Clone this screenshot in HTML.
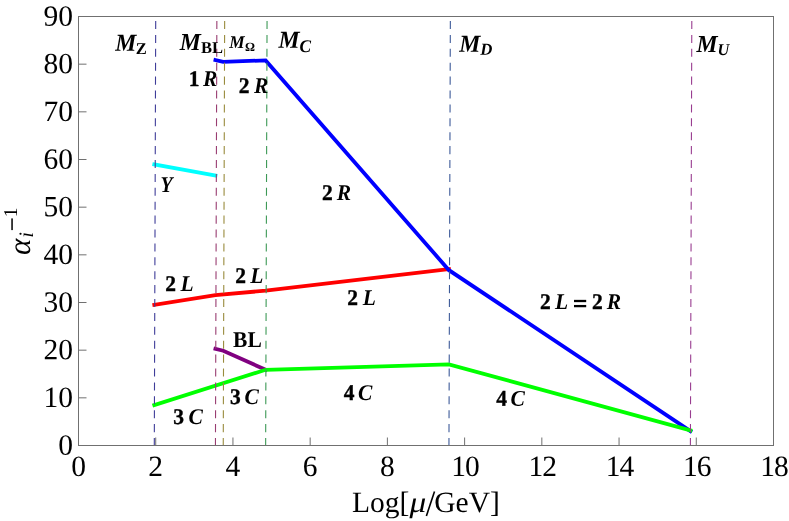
<!DOCTYPE html>
<html><head><meta charset="utf-8"><title>Gauge coupling running</title>
<style>
html,body{margin:0;padding:0;background:#fff;}
body{width:789px;height:521px;overflow:hidden;font-family:"Liberation Serif",serif;}
svg{display:block;will-change:transform;}
text{font-family:"Liberation Serif",serif;fill:#000;text-rendering:geometricPrecision;}
.tk{font-size:29.5px;}
.bi{font-weight:bold;font-style:italic;}
.b{font-weight:bold;}
.i{font-style:italic;}
.hv{stroke:#000;stroke-width:0.35px;}
</style></head><body>
<svg width="789" height="521" viewBox="0 0 789 521">
<polyline points="154.30,164.40 215.45,175.60" fill="none" stroke="#00ffff" stroke-width="3.8" stroke-linejoin="miter" stroke-linecap="square"/>
<polyline points="215.45,348.90 223.25,350.70 265.65,369.80" fill="none" stroke="#800080" stroke-width="3.8" stroke-linejoin="miter" stroke-linecap="square"/>
<polyline points="154.30,304.90 215.45,295.20 265.65,290.60 448.95,269.20" fill="none" stroke="#ff0000" stroke-width="3.8" stroke-linejoin="miter" stroke-linecap="square"/>
<polyline points="215.45,60.00 223.25,61.80 265.65,60.40 448.95,270.20 690.40,431.00" fill="none" stroke="#0000ff" stroke-width="3.8" stroke-linejoin="miter" stroke-linecap="square"/>
<polyline points="154.30,405.10 265.65,369.80 448.95,364.40 690.40,430.40" fill="none" stroke="#00ff00" stroke-width="3.8" stroke-linejoin="miter" stroke-linecap="square"/>
<line x1="154.30" y1="445.50" x2="155.70" y2="21.5" stroke="#3f3d99" stroke-width="1.1" stroke-dasharray="6.95 6.95" stroke-linecap="square"/>
<line x1="215.45" y1="445.50" x2="216.85" y2="21.5" stroke="#993d71" stroke-width="1.1" stroke-dasharray="6.95 6.95" stroke-linecap="square"/>
<line x1="223.25" y1="445.50" x2="224.65" y2="21.5" stroke="#998b3d" stroke-width="1.1" stroke-dasharray="6.95 6.95" stroke-linecap="square"/>
<line x1="265.65" y1="445.50" x2="267.05" y2="21.5" stroke="#3d9956" stroke-width="1.1" stroke-dasharray="6.95 6.95" stroke-linecap="square"/>
<line x1="448.95" y1="445.50" x2="450.35" y2="21.5" stroke="#3d5a99" stroke-width="1.1" stroke-dasharray="6.95 6.95" stroke-linecap="square"/>
<line x1="690.40" y1="445.50" x2="691.80" y2="21.5" stroke="#993d90" stroke-width="1.1" stroke-dasharray="6.95 6.95" stroke-linecap="square"/>
<rect x="78.5" y="16.5" width="695.0" height="429.0" fill="none" stroke="#707070" stroke-width="1"/>
<line x1="78.50" y1="445.5" x2="78.50" y2="437.5" stroke="#707070" stroke-width="1"/>
<line x1="155.72" y1="445.5" x2="155.72" y2="437.5" stroke="#707070" stroke-width="1"/>
<line x1="232.94" y1="445.5" x2="232.94" y2="437.5" stroke="#707070" stroke-width="1"/>
<line x1="310.17" y1="445.5" x2="310.17" y2="437.5" stroke="#707070" stroke-width="1"/>
<line x1="387.39" y1="445.5" x2="387.39" y2="437.5" stroke="#707070" stroke-width="1"/>
<line x1="464.61" y1="445.5" x2="464.61" y2="437.5" stroke="#707070" stroke-width="1"/>
<line x1="541.83" y1="445.5" x2="541.83" y2="437.5" stroke="#707070" stroke-width="1"/>
<line x1="619.06" y1="445.5" x2="619.06" y2="437.5" stroke="#707070" stroke-width="1"/>
<line x1="696.28" y1="445.5" x2="696.28" y2="437.5" stroke="#707070" stroke-width="1"/>
<line x1="773.50" y1="445.5" x2="773.50" y2="437.5" stroke="#707070" stroke-width="1"/>
<line x1="78.5" y1="445.50" x2="86.5" y2="445.50" stroke="#707070" stroke-width="1"/>
<line x1="78.5" y1="397.83" x2="86.5" y2="397.83" stroke="#707070" stroke-width="1"/>
<line x1="78.5" y1="350.17" x2="86.5" y2="350.17" stroke="#707070" stroke-width="1"/>
<line x1="78.5" y1="302.50" x2="86.5" y2="302.50" stroke="#707070" stroke-width="1"/>
<line x1="78.5" y1="254.83" x2="86.5" y2="254.83" stroke="#707070" stroke-width="1"/>
<line x1="78.5" y1="207.17" x2="86.5" y2="207.17" stroke="#707070" stroke-width="1"/>
<line x1="78.5" y1="159.50" x2="86.5" y2="159.50" stroke="#707070" stroke-width="1"/>
<line x1="78.5" y1="111.83" x2="86.5" y2="111.83" stroke="#707070" stroke-width="1"/>
<line x1="78.5" y1="64.17" x2="86.5" y2="64.17" stroke="#707070" stroke-width="1"/>
<line x1="78.5" y1="16.50" x2="86.5" y2="16.50" stroke="#707070" stroke-width="1"/>
<text class="tk" transform="translate(78.50,475.9) rotate(0.05)" text-anchor="middle">0</text>
<text class="tk" transform="translate(155.72,475.9) rotate(0.05)" text-anchor="middle">2</text>
<text class="tk" transform="translate(232.94,475.9) rotate(0.05)" text-anchor="middle">4</text>
<text class="tk" transform="translate(310.17,475.9) rotate(0.05)" text-anchor="middle">6</text>
<text class="tk" transform="translate(387.39,475.9) rotate(0.05)" text-anchor="middle">8</text>
<text class="tk" transform="translate(465.01,475.9) rotate(0.05)" text-anchor="middle" letter-spacing="-1">10</text>
<text class="tk" transform="translate(542.23,475.9) rotate(0.05)" text-anchor="middle" letter-spacing="-1">12</text>
<text class="tk" transform="translate(619.46,475.9) rotate(0.05)" text-anchor="middle" letter-spacing="-1">14</text>
<text class="tk" transform="translate(696.68,475.9) rotate(0.05)" text-anchor="middle" letter-spacing="-1">16</text>
<text class="tk" transform="translate(773.90,475.9) rotate(0.05)" text-anchor="middle" letter-spacing="-1">18</text>
<text class="tk" transform="translate(73.1,454.70) rotate(0.05)" text-anchor="end">0</text>
<text class="tk" transform="translate(73.1,407.03) rotate(0.05)" text-anchor="end">10</text>
<text class="tk" transform="translate(73.1,359.37) rotate(0.05)" text-anchor="end">20</text>
<text class="tk" transform="translate(73.1,311.70) rotate(0.05)" text-anchor="end">30</text>
<text class="tk" transform="translate(73.1,264.03) rotate(0.05)" text-anchor="end">40</text>
<text class="tk" transform="translate(73.1,216.37) rotate(0.05)" text-anchor="end">50</text>
<text class="tk" transform="translate(73.1,168.70) rotate(0.05)" text-anchor="end">60</text>
<text class="tk" transform="translate(73.1,121.03) rotate(0.05)" text-anchor="end">70</text>
<text class="tk" transform="translate(73.1,73.37) rotate(0.05)" text-anchor="end">80</text>
<text class="tk" transform="translate(73.1,25.70) rotate(0.05)" text-anchor="end">90</text>
<text transform="translate(352,512) rotate(0.05)" font-size="29.5">Log[</text>
<text transform="translate(409.6,512) rotate(0.05) scale(1.13,1)" font-size="29.5" class="i">&#956;</text>
<line x1="434.5" y1="491.6" x2="426.4" y2="515.9" stroke="#000" stroke-width="1.6"/>
<text transform="translate(434.25,512) rotate(0.05)" font-size="29.5">GeV]</text>
<g transform="translate(29.8,255.1) rotate(-90)"><text x="0" y="0" font-size="31" class="i">&#945;</text><text x="17.3" y="3.3" font-size="20.5" class="i">i</text><rect x="25" y="-18.5" width="11.7" height="1.5" fill="#000"/><text x="37.9" y="-13.2" font-size="19.5">1</text></g>
<text transform="translate(115.3,50.8) rotate(0.05) scale(1.0,1.03)" class="bi" font-size="23.7">M</text>
<text transform="translate(135.8,54.0) rotate(0.05)" class="b" font-size="16.5">Z</text>
<text transform="translate(179.8,50.0) rotate(0.05) scale(1.0,1.03)" class="bi" font-size="23.7">M</text>
<text transform="translate(201.0,53.0) rotate(0.05)" class="b" font-size="16.5">BL</text>
<text transform="translate(229.3,47.9) rotate(0.05) scale(1.0,1.03)" class="bi" font-size="17.3">M</text>
<text transform="translate(245.0,50.95) rotate(0.05)" class="b" font-size="12.5">&#937;</text>
<text transform="translate(278.6,47.8) rotate(0.05) scale(1.0,1.03)" class="bi" font-size="23.7">M</text>
<text transform="translate(299.6,51.9) rotate(0.05) scale(1.0,1.03)" class="bi" font-size="17.3">C</text>
<text transform="translate(459.3,51.8) rotate(0.05) scale(1.0,1.03)" class="bi" font-size="23.7">M</text>
<text transform="translate(480.2,54.75) rotate(0.05)" class="bi" font-size="16.8">D</text>
<text transform="translate(696.6,52.0) rotate(0.05) scale(1.0,1.03)" class="bi" font-size="23.7">M</text>
<text transform="translate(717.4,54.9) rotate(0.05) scale(1.0,1.02)" class="bi" font-size="16.3">U</text>
<text transform="translate(188.7,86) rotate(0.05) scale(1.0,1.045)" class="b hv" font-size="21.5">1</text>
<text transform="translate(203.0,86) rotate(0.05) scale(1.0,1.045)" class="bi" font-size="21.5">R</text>
<text transform="translate(238.7,93) rotate(0.05) scale(1.0,1.045)" class="b hv" font-size="21.5">2</text>
<text transform="translate(254.0,93) rotate(0.05) scale(1.0,1.045)" class="bi" font-size="21.5">R</text>
<text transform="translate(160.5,192) rotate(0.05) scale(0.92,1.045)" class="bi" font-size="21.5">Y</text>
<text transform="translate(322.1,200) rotate(0.05) scale(1.0,1.045)" class="b hv" font-size="21.5">2</text>
<text transform="translate(336.8,200) rotate(0.05) scale(1.0,1.045)" class="bi" font-size="21.5">R</text>
<text transform="translate(165.3,291) rotate(0.05) scale(1.0,1.045)" class="b hv" font-size="21.5">2</text>
<text transform="translate(180.4,291) rotate(0.05) scale(1.0,1.045)" class="bi" font-size="21.5">L</text>
<text transform="translate(235.3,283) rotate(0.05) scale(1.0,1.045)" class="b hv" font-size="21.5">2</text>
<text transform="translate(250.3,283) rotate(0.05) scale(1.0,1.045)" class="bi" font-size="21.5">L</text>
<text transform="translate(347.2,305) rotate(0.05) scale(1.0,1.045)" class="b hv" font-size="21.5">2</text>
<text transform="translate(362.7,305) rotate(0.05) scale(1.0,1.045)" class="bi" font-size="21.5">L</text>
<text transform="translate(233.05,347) rotate(0.05) scale(1.0,1.045)" class="b" font-size="21.5">BL</text>
<text transform="translate(173.3,424) rotate(0.05) scale(1.0,1.045)" class="b hv" font-size="21.5">3</text>
<text transform="translate(188.6,424) rotate(0.05) scale(1.0,1.045)" class="bi" font-size="21.5">C</text>
<text transform="translate(230.1,404) rotate(0.05) scale(1.0,1.045)" class="b hv" font-size="21.5">3</text>
<text transform="translate(244.5,404) rotate(0.05) scale(1.0,1.045)" class="bi" font-size="21.5">C</text>
<text transform="translate(343.7,400) rotate(0.05) scale(1.0,1.045)" class="b hv" font-size="21.5">4</text>
<text transform="translate(358.1,400) rotate(0.05) scale(1.0,1.045)" class="bi" font-size="21.5">C</text>
<text transform="translate(496.2,405.8) rotate(0.05) scale(1.0,1.045)" class="b hv" font-size="21.5">4</text>
<text transform="translate(510.6,405.8) rotate(0.05) scale(1.0,1.045)" class="bi" font-size="21.5">C</text>
<text transform="translate(539.9,309) rotate(0.05) scale(1.0,1.045)" class="b hv" font-size="21.5">2</text>
<text transform="translate(554.9,309) rotate(0.05) scale(1.0,1.045)" class="bi" font-size="21.5">L</text>
<rect x="574" y="299.85" width="12.2" height="2.3" fill="#000"/><rect x="574" y="304.95" width="12.2" height="2.3" fill="#000"/>
<text transform="translate(592.0,309) rotate(0.05) scale(1.0,1.045)" class="b hv" font-size="21.5">2</text>
<text transform="translate(606.8,309) rotate(0.05) scale(1.0,1.045)" class="bi" font-size="21.5">R</text>
</svg></body></html>
